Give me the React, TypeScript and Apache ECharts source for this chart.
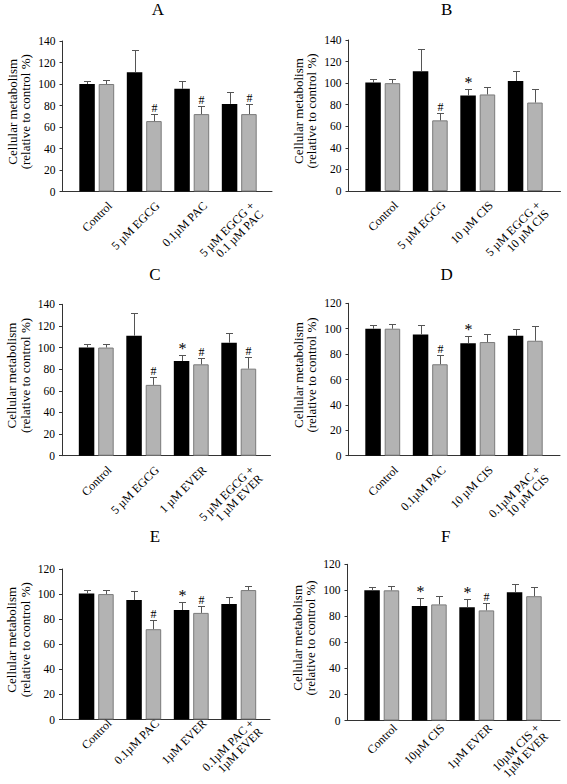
import React, { useEffect, useRef } from "react";
import * as echarts from "echarts";

// ---------- data ----------
const panelTitles = ["A", "B", "C", "D", "E", "F"];

const categoriesA = ["Control", "5 µM EGCG", "0.1µM PAC", "5 µM EGCG +\n0.1 µM PAC"];
const categoriesB = ["Control", "5 µM EGCG", "10 µM CIS", "5 µM EGCG +\n10 µM CIS"];
const categoriesC = ["Control", "5 µM EGCG", "1 µM EVER", "5 µM EGCG +\n1 µM EVER"];
const categoriesD = ["Control", "0.1µM PAC", "10 µM CIS", "0.1µM PAC +\n10 µM CIS"];
const categoriesE = ["Control", "0.1µM PAC", "1µM EVER", "0.1µM PAC +\n1µM EVER"];
const categoriesF = ["Control", "10µM CIS", "1µM EVER", "10µM CIS +\n1µM EVER"];

const blackA = [100, 111, 95.5, 81.5];
const blackErrA = [3, 21, 7.5, 11];
const greyA = [100, 65.5, 72, 72];
const greyErrA = [3.5, 7, 7.5, 9];
const blackMarkA = ["", "", "", ""];
const greyMarkA = ["", "#", "#", "#"];

const blackB = [100.5, 111, 88.5, 102];
const blackErrB = [3, 21, 6, 9];
const greyB = [100, 65.5, 89.5, 82];
const greyErrB = [3.5, 7, 6.5, 12.5];
const blackMarkB = ["", "", "*", ""];
const greyMarkB = ["", "#", "", ""];

const blackC = [100, 111, 87.5, 104.5];
const blackErrC = [3, 20.5, 6, 8.5];
const greyC = [100, 65.5, 84.5, 80.5];
const greyErrC = [3.5, 7.5, 6, 11];
const blackMarkC = ["", "", "*", ""];
const greyMarkC = ["", "#", "#", "#"];

const blackD = [100, 95.5, 88.5, 94.5];
const blackErrD = [2.8, 7.3, 5.8, 5.2];
const greyD = [100, 72, 89.5, 90.5];
const greyErrD = [3.5, 7.2, 6, 12];
const blackMarkD = ["", "", "*", ""];
const greyMarkD = ["", "#", "", ""];

const blackE = [100.5, 95.3, 87.3, 92];
const blackErrE = [2.7, 7.4, 6.6, 5.3];
const greyE = [100, 72, 85, 103.2];
const greyErrE = [3.5, 7.3, 5.8, 3.4];
const blackMarkE = ["", "", "*", ""];
const greyMarkE = ["", "#", "#", ""];

const blackF = [100, 88, 87, 98.5];
const blackErrF = [2.7, 6, 6.2, 6.5];
const greyF = [100, 89.2, 84.6, 95.5];
const greyErrF = [3, 6.4, 6, 7];
const blackMarkF = ["", "*", "*", ""];
const greyMarkF = ["", "", "#", ""];

const yMaxes = [140, 140, 140, 120, 120, 120];
const yTickStep = 20;
const yAxisName = "Cellular metabolism\n(relative to control %)";

// ---------- layout / style ----------
const FONT = "Liberation Serif";

const layouts = [
  { left: 62.5, right: 272, top: 41, bottom: 191.5, tx: 158, ty: 1 },
  { left: 348.5, right: 560.5, top: 40, bottom: 191, tx: 446.7, ty: 1 },
  { left: 62, right: 270.5, top: 304.3, bottom: 455.7, tx: 155, ty: 265.5 },
  { left: 348.5, right: 560, top: 303.3, bottom: 455.7, tx: 446.7, ty: 265.5 },
  { left: 62, right: 270, top: 569, bottom: 719.5, tx: 155, ty: 527.5 },
  { left: 347.5, right: 560, top: 564.3, bottom: 720.5, tx: 445.7, ty: 527.5 },
];

const BAR_W = 15.5;
const BAR_GAP = 0.25;
const BAR_OFFSET = (BAR_W + BAR_W * BAR_GAP) / 2;
const BAR_GRID_INSET = 10.5;
const BAR_GRID_W = 190;
const LABEL_SHIFT = 9;

const panels = [
  { cats: categoriesA, black: blackA, blackErr: blackErrA, grey: greyA, greyErr: greyErrA, bm: blackMarkA, gm: greyMarkA },
  { cats: categoriesB, black: blackB, blackErr: blackErrB, grey: greyB, greyErr: greyErrB, bm: blackMarkB, gm: greyMarkB },
  { cats: categoriesC, black: blackC, blackErr: blackErrC, grey: greyC, greyErr: greyErrC, bm: blackMarkC, gm: greyMarkC },
  { cats: categoriesD, black: blackD, blackErr: blackErrD, grey: greyD, greyErr: greyErrD, bm: blackMarkD, gm: greyMarkD },
  { cats: categoriesE, black: blackE, blackErr: blackErrE, grey: greyE, greyErr: greyErrE, bm: blackMarkE, gm: greyMarkE },
  { cats: categoriesF, black: blackF, blackErr: blackErrF, grey: greyF, greyErr: greyErrF, bm: blackMarkF, gm: greyMarkF },
];

function errSeries(means: number[], errs: number[], marks: string[], offset: number, axisIdx: number) {
  return {
    type: "custom",
    xAxisIndex: axisIdx,
    yAxisIndex: axisIdx,
    silent: true,
    z: 5,
    data: means.map((m, i) => [i, m, errs[i]]),
    renderItem: (params: any, api: any) => {
      const idx = api.value(0);
      const mean = api.value(1);
      const err = api.value(2);
      const base = api.coord([idx, mean]);
      const top = api.coord([idx, mean + err]);
      const x = Math.round(base[0] + offset) + 0.5;
      const yt = Math.round(top[1]) + 0.5;
      const children: any[] = [
        { type: "line", shape: { x1: x, y1: base[1], x2: x, y2: yt }, style: { stroke: "#555", lineWidth: 1 } },
        { type: "line", shape: { x1: x - 3.5, y1: yt, x2: x + 3.5, y2: yt }, style: { stroke: "#555", lineWidth: 1 } },
      ];
      const mark = marks[params.dataIndex];
      if (mark) {
        const isStar = mark === "*";
        children.push({
          type: "text",
          x: x,
          y: yt - (isStar ? -1 : 1),
          style: {
            text: mark,
            fill: "#000",
            fontSize: isStar ? 16 : 12,
            fontFamily: FONT,
            align: "center",
            verticalAlign: "bottom",
            textAlign: "center",
            textVerticalAlign: "bottom",
          },
        });
      }
      return { type: "group", children };
    },
  };
}

function buildOption() {
  const grid: any[] = [];
  const xAxis: any[] = [];
  const yAxis: any[] = [];
  const series: any[] = [];
  const title: any[] = [];

  panels.forEach((p, k) => {
    const L = layouts[k];
    const h = L.bottom - L.top;
    const yMax = yMaxes[k];
    const gFrame = grid.length;
    // frame grid: y axis + full-length x axis line
    grid.push({ left: L.left, top: L.top, width: L.right - L.left, height: h });
    xAxis.push({
      type: "value", gridIndex: gFrame, min: 0, max: 1,
      axisLine: { show: true, onZero: false, lineStyle: { color: "#333", width: 1 } },
      axisTick: { show: false }, axisLabel: { show: false }, splitLine: { show: false },
    });
    yAxis.push({
      type: "value", gridIndex: gFrame, min: 0, max: yMax, interval: yTickStep,
      axisLine: { show: true, onZero: false, lineStyle: { color: "#333", width: 1 } },
      axisTick: { show: true, inside: false, length: 3, lineStyle: { color: "#333" } },
      axisLabel: { color: "#000", fontFamily: FONT, fontSize: 11.5, margin: 7 },
      splitLine: { show: false },
      name: yAxisName,
      nameLocation: "middle",
      nameGap: 30,
      nameTextStyle: { color: "#000", fontFamily: FONT, fontSize: 13, lineHeight: 13.5, padding: [0, 0, 0, 9] },
    });
    // bar grid
    const gBar = grid.length;
    grid.push({ left: L.left + BAR_GRID_INSET, top: L.top, width: BAR_GRID_W, height: h });
    xAxis.push({
      type: "category", gridIndex: gBar, data: p.cats,
      axisLine: { show: false }, axisTick: { show: false }, axisLabel: { show: false }, splitLine: { show: false },
    });
    yAxis.push({ type: "value", gridIndex: gBar, min: 0, max: yMax, show: false, splitLine: { show: false } });
    series.push({
      type: "bar", xAxisIndex: gBar, yAxisIndex: gBar, data: p.black, barWidth: BAR_W, barGap: BAR_GAP * 100 + "%",
      itemStyle: { color: "#000", borderColor: "#000", borderWidth: 0 }, silent: true,
    });
    series.push({
      type: "bar", xAxisIndex: gBar, yAxisIndex: gBar, data: p.grey, barWidth: BAR_W, barGap: BAR_GAP * 100 + "%",
      itemStyle: { color: "#b3b3b3", borderColor: "#7a7a7a", borderWidth: 1 }, silent: true,
    });
    series.push(errSeries(p.black, p.blackErr, p.bm, -BAR_OFFSET, gBar));
    series.push(errSeries(p.grey, p.greyErr, p.gm, BAR_OFFSET, gBar));
    // label grid (category labels, shifted)
    const gLab = grid.length;
    grid.push({ left: L.left + BAR_GRID_INSET + LABEL_SHIFT, top: L.top, width: BAR_GRID_W, height: h });
    xAxis.push({
      type: "category", gridIndex: gLab, data: p.cats,
      axisLine: { show: false }, axisTick: { show: false }, splitLine: { show: false },
      axisLabel: {
        show: true, interval: 0, rotate: 45, margin: 8, color: "#000", fontFamily: FONT, fontSize: 12,
        lineHeight: 12, align: "right", verticalAlign: "top",
      },
    });
    yAxis.push({ type: "value", gridIndex: gLab, min: 0, max: 1, show: false, splitLine: { show: false } });

    title.push({
      text: panelTitles[k], left: L.tx, top: L.ty, textAlign: "center", padding: 0,
      textStyle: { fontFamily: FONT, fontSize: 17, fontWeight: "normal", color: "#000" },
    });
  });

  return {
    animation: false,
    backgroundColor: "#fff",
    title, grid, xAxis, yAxis, series,
  };
}

export default function App() {
  const ref = useRef<HTMLDivElement>(null);
  useEffect(() => {
    if (!ref.current) return;
    const chart = echarts.init(ref.current, undefined, { renderer: "svg" });
    chart.setOption(buildOption() as any);
    return () => chart.dispose();
  }, []);
  return (
    <div
      ref={ref}
      style={{ position: "fixed", left: 0, top: 0, width: 567, height: 784, background: "#fff" }}
    />
  );
}
